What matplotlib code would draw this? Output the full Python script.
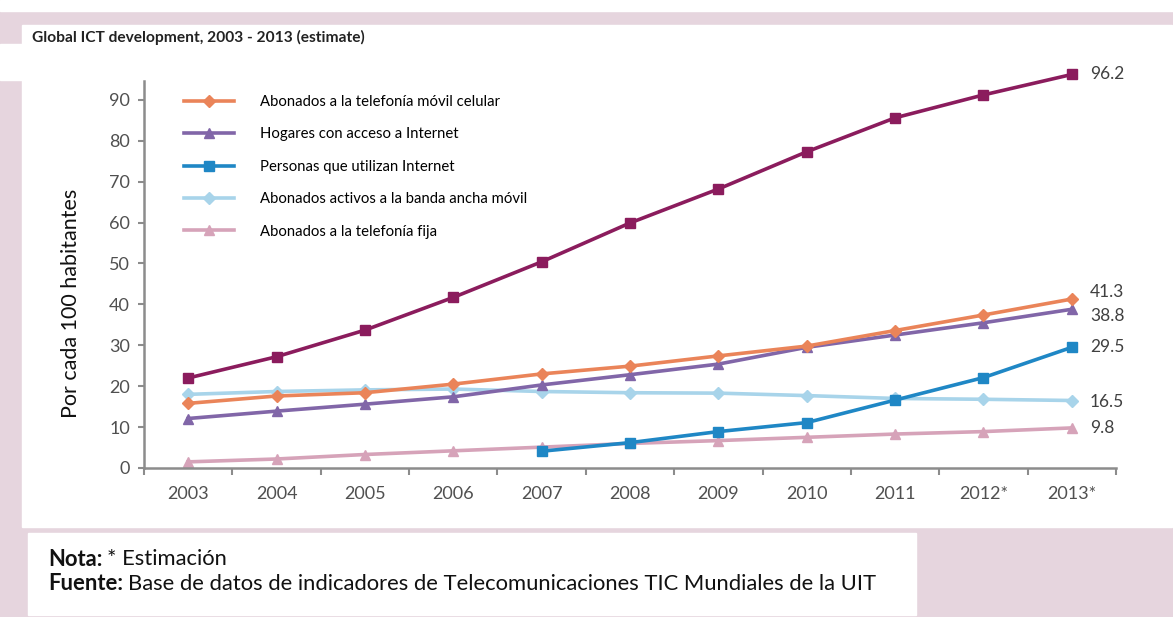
import numpy as np
import matplotlib
matplotlib.use('Agg')
import matplotlib.pyplot as plt
from matplotlib.patches import Rectangle

plt.rcParams['font.family'] = ['Lato', 'DejaVu Sans']

# ---- data ----
years = ['2003', '2004', '2005', '2006', '2007', '2008', '2009', '2010', '2011', '2012*', '2013*']
mobile_cel = [22.0, 27.2, 33.7, 41.7, 50.4, 59.9, 68.2, 77.3, 85.6, 91.2, 96.2]
orange_s   = [15.8, 17.6, 18.4, 20.5, 23.0, 24.9, 27.4, 29.8, 33.6, 37.4, 41.3]
purple_s   = [12.1, 13.9, 15.6, 17.4, 20.3, 22.8, 25.4, 29.5, 32.5, 35.5, 38.8]
blue_s     = [np.nan, np.nan, np.nan, np.nan, 4.1, 6.2, 8.9, 11.1, 16.6, 22.1, 29.5]
lblue_s    = [18.0, 18.7, 19.1, 19.3, 18.7, 18.4, 18.3, 17.7, 17.0, 16.8, 16.5]
pink_s     = [1.5, 2.2, 3.3, 4.2, 5.1, 6.0, 6.7, 7.5, 8.3, 8.9, 9.8]

legend_labels = ['Abonados a la telefonía móvil celular',
                 'Hogares con acceso a Internet',
                 'Personas que utilizan Internet',
                 'Abonados activos a la banda ancha móvil',
                 'Abonados a la telefonía fija']
end_labels = ['96.2', '41.3', '38.8', '29.5', '16.5', '9.8']

W, H = 1173, 617
fig = plt.figure(figsize=(W / 100, H / 100), dpi=100)
pink_bg = '#e6d5de'
fig.patch.set_facecolor(pink_bg)


def px_rect(x0, y0, x1, y1, color='white'):
    fig.patches.append(Rectangle((x0 / W, 1 - y1 / H), (x1 - x0) / W, (y1 - y0) / H,
                                 transform=fig.transFigure, color=color, zorder=-10))


# ---- background boxes (screenshot look) ----
px_rect(0, 0, W, 11)
px_rect(22, 25, 1172, 527)
px_rect(0, 44, 22, 80)
px_rect(28, 533, 916, 615)

fig.text(32 / W, 1 - 37 / H, 'Global ICT development, 2003 - 2013 (estimate)',
         fontsize=11.2, fontweight='bold', color='#222222', va='center', ha='left')

# ---- axes ----
ax = fig.add_axes([144 / W, 1 - 468 / H, (1116 - 144) / W, (468 - 81) / H])
ax.patch.set_alpha(0)
x = np.arange(len(years))

kw = dict(linewidth=2.6, markersize=7, clip_on=False)
ax.plot(x, mobile_cel, color='#8b1c5d', marker='s', **kw)
l1, = ax.plot(x, pink_s, color='#d6a3b9', marker='^', **kw)
l2, = ax.plot(x, lblue_s, color='#a8d4ea', marker='D', markersize=6, linewidth=2.6)
l3, = ax.plot(x, blue_s, color='#1f87c5', marker='s', **kw)
l4, = ax.plot(x, purple_s, color='#8166a8', marker='^', **kw)
l5, = ax.plot(x, orange_s, color='#ea8459', marker='D', markersize=6, linewidth=2.6)

ax.set_xlim(-0.5, 10.5)
ax.set_ylim(0, 94.6)
ax.set_yticks(np.arange(0, 91, 10))
ax.set_xticks(np.arange(-0.5, 10.6, 1))
ax.set_xticklabels([])
ax.set_xticks(x, minor=True)
ax.set_xticklabels(years, minor=True)
ax.tick_params(axis='x', which='major', length=5, width=1.5, color='#8c8c8c', direction='out')
ax.tick_params(axis='x', which='minor', length=0, pad=13, labelsize=13, labelcolor='#505050')
ax.tick_params(axis='y', length=4, width=1.5, color='#8c8c8c', labelsize=13,
               labelcolor='#505050', pad=6)
for s in ['top', 'right']:
    ax.spines[s].set_visible(False)
for s in ['left', 'bottom']:
    ax.spines[s].set_color('#8c8c8c')
    ax.spines[s].set_linewidth(1.8)

fig.text(71 / W, 1 - 303 / H, 'Por cada 100 habitantes', rotation=90,
         fontsize=15.5, va='center', ha='center', color='#111111')

# ---- end labels ----
end_vals = [mobile_cel[-1], orange_s[-1], purple_s[-1], blue_s[-1], lblue_s[-1], pink_s[-1]]
nudges = [0, 5, -5, 0, -1, 0]
for lab, v, dy in zip(end_labels, end_vals, nudges):
    ax.annotate(lab, (x[-1], v), xytext=(13, dy), textcoords='offset points',
                fontsize=12.5, color='#404040', va='center', ha='left',
                annotation_clip=False)

# ---- legend ----
ax.legend([l5, l4, l3, l2, l1], legend_labels, loc='upper left',
          bbox_to_anchor=(178 / W, 1 - 89 / H), bbox_transform=fig.transFigure,
          frameon=False, fontsize=10.7, handlelength=3.4, handletextpad=1.75,
          labelspacing=1.24, borderaxespad=0)

# ---- note ----
renderer = fig.canvas.get_renderer()
note_rows = [('Nota:', '* Estimación', 559),
             ('Fuente:', 'Base de datos de indicadores de Telecomunicaciones TIC Mundiales de la UIT', 584)]
for head, body, ypx in note_rows:
    t = fig.text(48 / W, 1 - ypx / H, head, fontsize=15.8, fontweight='bold',
                 va='center', ha='left', color='#111111')
    bb = t.get_window_extent(renderer)
    fig.text((bb.x1 + 5) / W, 1 - ypx / H, body, fontsize=15.8,
             va='center', ha='left', color='#111111')

fig.savefig('out.png', dpi=100, facecolor=fig.get_facecolor())
